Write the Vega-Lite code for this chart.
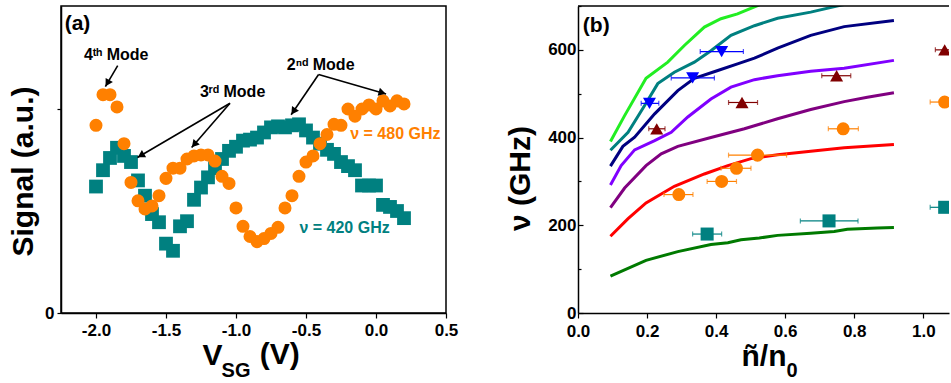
{
  "$schema": "https://vega.github.io/schema/vega-lite/v6.json",
  "padding": {"left": 7, "top": 5, "right": 0, "bottom": 0},
  "background": "white",
  "spacing": 46,
  "resolve": {"scale": {"color": "independent", "shape": "independent", "size": "independent"}},
  "config": {
    "font": "Liberation Sans",
    "axis": {"labelFont": "Liberation Sans", "labelFontWeight": "bold", "labelColor": "black", "labelFontSize": 17, "labelFlush": false,
      "titleFont": "Liberation Sans", "titleFontWeight": "bold", "titleColor": "black", "titleFontSize": 30,
      "domainColor": "black", "domainWidth": 1.5, "tickColor": "black", "tickWidth": 1.2, "grid": false},
    "text": {"font": "Liberation Sans", "fontWeight": "bold"}
  },
  "datasets": {
    "signal": [
      {"v": -2.0, "s": 0.62, "f": "420 GHz"}, {"v": -1.95, "s": 0.70, "f": "420 GHz"}, {"v": -1.9, "s": 0.76, "f": "420 GHz"},
      {"v": -1.85, "s": 0.81, "f": "420 GHz"}, {"v": -1.8, "s": 0.77, "f": "420 GHz"}, {"v": -1.75, "s": 0.74, "f": "420 GHz"},
      {"v": -1.7, "s": 0.65, "f": "420 GHz"}, {"v": -1.65, "s": 0.575, "f": "420 GHz"}, {"v": -1.6, "s": 0.485, "f": "420 GHz"},
      {"v": -1.55, "s": 0.445, "f": "420 GHz"}, {"v": -1.5, "s": 0.34, "f": "420 GHz"}, {"v": -1.45, "s": 0.305, "f": "420 GHz"},
      {"v": -1.4, "s": 0.425, "f": "420 GHz"}, {"v": -1.35, "s": 0.45, "f": "420 GHz"}, {"v": -1.3, "s": 0.555, "f": "420 GHz"},
      {"v": -1.25, "s": 0.615, "f": "420 GHz"}, {"v": -1.2, "s": 0.665, "f": "420 GHz"}, {"v": -1.15, "s": 0.71, "f": "420 GHz"},
      {"v": -1.1, "s": 0.755, "f": "420 GHz"}, {"v": -1.05, "s": 0.795, "f": "420 GHz"}, {"v": -1.0, "s": 0.815, "f": "420 GHz"},
      {"v": -0.95, "s": 0.845, "f": "420 GHz"}, {"v": -0.9, "s": 0.85, "f": "420 GHz"}, {"v": -0.85, "s": 0.86, "f": "420 GHz"},
      {"v": -0.8, "s": 0.885, "f": "420 GHz"}, {"v": -0.75, "s": 0.91, "f": "420 GHz"}, {"v": -0.7, "s": 0.915, "f": "420 GHz"},
      {"v": -0.65, "s": 0.91, "f": "420 GHz"}, {"v": -0.6, "s": 0.92, "f": "420 GHz"}, {"v": -0.55, "s": 0.925, "f": "420 GHz"},
      {"v": -0.5, "s": 0.895, "f": "420 GHz"}, {"v": -0.45, "s": 0.86, "f": "420 GHz"}, {"v": -0.4, "s": 0.83, "f": "420 GHz"},
      {"v": -0.35, "s": 0.8, "f": "420 GHz"}, {"v": -0.3, "s": 0.78, "f": "420 GHz"}, {"v": -0.25, "s": 0.74, "f": "420 GHz"},
      {"v": -0.2, "s": 0.72, "f": "420 GHz"}, {"v": -0.15, "s": 0.7, "f": "420 GHz"}, {"v": -0.1, "s": 0.625, "f": "420 GHz"},
      {"v": -0.05, "s": 0.625, "f": "420 GHz"}, {"v": 0.0, "s": 0.625, "f": "420 GHz"}, {"v": 0.05, "s": 0.53, "f": "420 GHz"},
      {"v": 0.1, "s": 0.52, "f": "420 GHz"}, {"v": 0.15, "s": 0.5, "f": "420 GHz"}, {"v": 0.2, "s": 0.465, "f": "420 GHz"},
      {"v": -2.0, "s": 0.92, "f": "480 GHz"}, {"v": -1.95, "s": 1.07, "f": "480 GHz"}, {"v": -1.9, "s": 1.07, "f": "480 GHz"},
      {"v": -1.85, "s": 1.01, "f": "480 GHz"}, {"v": -1.8, "s": 0.83, "f": "480 GHz"}, {"v": -1.75, "s": 0.64, "f": "480 GHz"},
      {"v": -1.7, "s": 0.55, "f": "480 GHz"}, {"v": -1.65, "s": 0.51, "f": "480 GHz"}, {"v": -1.6, "s": 0.525, "f": "480 GHz"},
      {"v": -1.55, "s": 0.575, "f": "480 GHz"}, {"v": -1.5, "s": 0.66, "f": "480 GHz"}, {"v": -1.45, "s": 0.71, "f": "480 GHz"},
      {"v": -1.4, "s": 0.71, "f": "480 GHz"}, {"v": -1.35, "s": 0.755, "f": "480 GHz"}, {"v": -1.3, "s": 0.77, "f": "480 GHz"},
      {"v": -1.25, "s": 0.775, "f": "480 GHz"}, {"v": -1.2, "s": 0.775, "f": "480 GHz"}, {"v": -1.15, "s": 0.745, "f": "480 GHz"},
      {"v": -1.1, "s": 0.67, "f": "480 GHz"}, {"v": -1.05, "s": 0.635, "f": "480 GHz"}, {"v": -1.0, "s": 0.515, "f": "480 GHz"},
      {"v": -0.95, "s": 0.425, "f": "480 GHz"}, {"v": -0.9, "s": 0.375, "f": "480 GHz"}, {"v": -0.85, "s": 0.35, "f": "480 GHz"},
      {"v": -0.8, "s": 0.365, "f": "480 GHz"}, {"v": -0.75, "s": 0.39, "f": "480 GHz"}, {"v": -0.7, "s": 0.42, "f": "480 GHz"},
      {"v": -0.65, "s": 0.515, "f": "480 GHz"}, {"v": -0.6, "s": 0.575, "f": "480 GHz"}, {"v": -0.55, "s": 0.67, "f": "480 GHz"},
      {"v": -0.5, "s": 0.74, "f": "480 GHz"}, {"v": -0.45, "s": 0.77, "f": "480 GHz"}, {"v": -0.4, "s": 0.83, "f": "480 GHz"},
      {"v": -0.35, "s": 0.875, "f": "480 GHz"}, {"v": -0.3, "s": 0.925, "f": "480 GHz"}, {"v": -0.25, "s": 0.92, "f": "480 GHz"},
      {"v": -0.2, "s": 1.0, "f": "480 GHz"}, {"v": -0.15, "s": 0.965, "f": "480 GHz"}, {"v": -0.1, "s": 1.0, "f": "480 GHz"},
      {"v": -0.05, "s": 1.02, "f": "480 GHz"}, {"v": 0.0, "s": 1.0, "f": "480 GHz"}, {"v": 0.05, "s": 1.04, "f": "480 GHz"},
      {"v": 0.1, "s": 1.015, "f": "480 GHz"}, {"v": 0.15, "s": 1.04, "f": "480 GHz"}, {"v": 0.2, "s": 1.025, "f": "480 GHz"}
    ],
    "notes": [
      {"t": "4ᵗʰ Mode", "x": -2.086, "y": 1.267, "f": "note"},
      {"t": "3ʳᵈ Mode", "x": -1.258, "y": 1.082, "f": "note"},
      {"t": "2ⁿᵈ Mode", "x": -0.637, "y": 1.218, "f": "note"},
      {"t": "ν = 480 GHz", "x": -0.184, "y": 0.877, "f": "480 GHz"},
      {"t": "ν = 420 GHz", "x": -0.547, "y": 0.418, "f": "420 GHz"}
    ],
    "arrows": [
      {"x": -1.845, "y": 1.213, "x2": -1.933, "y2": 1.11},
      {"x": -1.043, "y": 1.028, "x2": -1.704, "y2": 0.762},
      {"x": -1.043, "y": 1.028, "x2": -1.317, "y2": 0.811},
      {"x": -0.41, "y": 1.169, "x2": -0.606, "y2": 0.972},
      {"x": -0.41, "y": 1.169, "x2": 0.072, "y2": 1.074}
    ],
    "lines": [
      {"n": 0.094, "f": 84, "c": "L1"}, {"n": 0.197, "f": 120, "c": "L1"}, {"n": 0.289, "f": 140, "c": "L1"}, {"n": 0.385, "f": 156, "c": "L1"},
      {"n": 0.434, "f": 160, "c": "L1"}, {"n": 0.472, "f": 167, "c": "L1"}, {"n": 0.525, "f": 171, "c": "L1"}, {"n": 0.578, "f": 177, "c": "L1"},
      {"n": 0.674, "f": 182, "c": "L1"}, {"n": 0.742, "f": 186, "c": "L1"}, {"n": 0.78, "f": 191, "c": "L1"}, {"n": 0.867, "f": 194, "c": "L1"},
      {"n": 0.915, "f": 195, "c": "L1"},
      {"n": 0.094, "f": 175, "c": "L2"}, {"n": 0.145, "f": 215, "c": "L2"}, {"n": 0.197, "f": 251, "c": "L2"}, {"n": 0.279, "f": 289, "c": "L2"},
      {"n": 0.366, "f": 317, "c": "L2"}, {"n": 0.434, "f": 336, "c": "L2"}, {"n": 0.501, "f": 352, "c": "L2"}, {"n": 0.578, "f": 361, "c": "L2"},
      {"n": 0.674, "f": 369, "c": "L2"}, {"n": 0.771, "f": 377, "c": "L2"}, {"n": 0.915, "f": 384, "c": "L2"},
      {"n": 0.094, "f": 240, "c": "L3"}, {"n": 0.135, "f": 285, "c": "L3"}, {"n": 0.197, "f": 336, "c": "L3"}, {"n": 0.241, "f": 363, "c": "L3"},
      {"n": 0.289, "f": 380, "c": "L3"}, {"n": 0.385, "f": 400, "c": "L3"}, {"n": 0.482, "f": 420, "c": "L3"}, {"n": 0.578, "f": 443, "c": "L3"},
      {"n": 0.674, "f": 464, "c": "L3"}, {"n": 0.771, "f": 482, "c": "L3"}, {"n": 0.838, "f": 492, "c": "L3"}, {"n": 0.915, "f": 502, "c": "L3"},
      {"n": 0.094, "f": 292, "c": "L4"}, {"n": 0.125, "f": 336, "c": "L4"}, {"n": 0.164, "f": 372, "c": "L4"}, {"n": 0.222, "f": 393, "c": "L4"},
      {"n": 0.27, "f": 412, "c": "L4"}, {"n": 0.318, "f": 447, "c": "L4"}, {"n": 0.385, "f": 488, "c": "L4"}, {"n": 0.443, "f": 515, "c": "L4"},
      {"n": 0.511, "f": 532, "c": "L4"}, {"n": 0.578, "f": 541, "c": "L4"}, {"n": 0.674, "f": 551, "c": "L4"}, {"n": 0.771, "f": 558, "c": "L4"},
      {"n": 0.915, "f": 576, "c": "L4"},
      {"n": 0.094, "f": 335, "c": "L5"}, {"n": 0.13, "f": 380, "c": "L5"}, {"n": 0.164, "f": 401, "c": "L5"}, {"n": 0.222, "f": 454, "c": "L5"},
      {"n": 0.289, "f": 507, "c": "L5"}, {"n": 0.337, "f": 535, "c": "L5"}, {"n": 0.405, "f": 553, "c": "L5"}, {"n": 0.462, "f": 568, "c": "L5"},
      {"n": 0.511, "f": 581, "c": "L5"}, {"n": 0.578, "f": 604, "c": "L5"}, {"n": 0.674, "f": 633, "c": "L5"}, {"n": 0.771, "f": 653, "c": "L5"},
      {"n": 0.915, "f": 667, "c": "L5"},
      {"n": 0.094, "f": 371, "c": "L6"}, {"n": 0.145, "f": 412, "c": "L6"}, {"n": 0.193, "f": 473, "c": "L6"}, {"n": 0.231, "f": 523, "c": "L6"},
      {"n": 0.279, "f": 549, "c": "L6"}, {"n": 0.337, "f": 572, "c": "L6"}, {"n": 0.385, "f": 598, "c": "L6"}, {"n": 0.443, "f": 633, "c": "L6"},
      {"n": 0.511, "f": 655, "c": "L6"}, {"n": 0.578, "f": 672, "c": "L6"}, {"n": 0.674, "f": 686, "c": "L6"}, {"n": 0.756, "f": 701, "c": "L6"},
      {"n": 0.8, "f": 708, "c": "L6"},
      {"n": 0.094, "f": 391, "c": "L7"}, {"n": 0.135, "f": 450, "c": "L7"}, {"n": 0.197, "f": 535, "c": "L7"}, {"n": 0.26, "f": 572, "c": "L7"},
      {"n": 0.308, "f": 610, "c": "L7"}, {"n": 0.366, "f": 652, "c": "L7"}, {"n": 0.414, "f": 671, "c": "L7"}, {"n": 0.462, "f": 682, "c": "L7"},
      {"n": 0.52, "f": 701, "c": "L7"}, {"n": 0.56, "f": 715, "c": "L7"}
    ],
    "points": [
      {"n": 0.374, "f": 180, "lo": 0.332, "hi": 0.416, "c": "sq"},
      {"n": 0.727, "f": 210, "lo": 0.644, "hi": 0.811, "c": "sq"},
      {"n": 1.062, "f": 241, "lo": 1.02, "hi": 1.1, "c": "sq"},
      {"n": 0.292, "f": 270, "lo": 0.249, "hi": 0.333, "c": "ci"},
      {"n": 0.416, "f": 300, "lo": 0.374, "hi": 0.459, "c": "ci"},
      {"n": 0.459, "f": 330, "lo": 0.414, "hi": 0.501, "c": "ci"},
      {"n": 0.52, "f": 360, "lo": 0.436, "hi": 0.604, "c": "ci"},
      {"n": 0.768, "f": 420, "lo": 0.725, "hi": 0.812, "c": "ci"},
      {"n": 1.062, "f": 481, "lo": 1.02, "hi": 1.1, "c": "ci"},
      {"n": 0.228, "f": 420, "lo": 0.205, "hi": 0.252, "c": "tu"},
      {"n": 0.475, "f": 480, "lo": 0.436, "hi": 0.52, "c": "tu"},
      {"n": 0.749, "f": 541, "lo": 0.706, "hi": 0.79, "c": "tu"},
      {"n": 1.062, "f": 600, "lo": 1.035, "hi": 1.09, "c": "tu"},
      {"n": 0.207, "f": 478, "lo": 0.183, "hi": 0.234, "c": "td"},
      {"n": 0.332, "f": 536, "lo": 0.27, "hi": 0.395, "c": "td"},
      {"n": 0.416, "f": 596, "lo": 0.354, "hi": 0.479, "c": "td"}
    ]
  },
  "hconcat": [
    {
      "width": 385,
      "height": 307,
      "view": {"stroke": "black", "strokeWidth": 1.5},
      "layer": [
        {
          "data": {"name": "signal"},
          "mark": {"type": "point", "filled": true, "opacity": 1},
          "encoding": {
            "x": {"field": "v", "type": "quantitative", "title": "V",
              "scale": {"domain": [-2.25, 0.5], "nice": false, "zero": false},
              "axis": {"values": [-2, -1.75, -1.5, -1.25, -1, -0.75, -0.5, -0.25, 0, 0.25, 0.5],
                "labelExpr": "abs(datum.value*2 - round(datum.value*2)) < 0.001 ? replace(format(datum.value, '.1f'), '\u2212', '-') : ''",
                "tickSize": {"condition": {"test": "abs(datum.value*2 - round(datum.value*2)) < 0.001", "value": 5}, "value": 3},
                "labelPadding": 4, "titleBaseline": "alphabetic", "titleY": 51, "titleX": 141, "titleAlign": "left"}},
            "y": {"field": "s", "type": "quantitative", "title": "Signal (a.u.)",
              "scale": {"domain": [0, 1.505], "nice": false},
              "axis": {"values": [0, 1], "labelExpr": "datum.value == 0 ? '0' : ''", "tickSize": 4, "labelPadding": 3,
                "titleX": -23, "titleY": 165, "titleBaseline": "bottom"}},
            "color": {"field": "f", "type": "nominal", "scale": {"domain": ["420 GHz", "480 GHz", "note"], "range": ["#008080", "#FF8000", "black"]}, "legend": null},
            "shape": {"field": "f", "type": "nominal", "scale": {"domain": ["420 GHz", "480 GHz"], "range": ["square", "circle"]}, "legend": null},
            "size": {"field": "f", "type": "nominal", "scale": {"domain": ["420 GHz", "480 GHz"], "range": [190, 170]}, "legend": null}
          }
        },
        {
          "data": {"name": "arrows"},
          "mark": {"type": "rule", "color": "black", "strokeWidth": 1.6},
          "encoding": {
            "x": {"field": "x", "type": "quantitative"},
            "y": {"field": "y", "type": "quantitative"},
            "x2": {"field": "x2"},
            "y2": {"field": "y2"}
          }
        },
        {
          "data": {"name": "arrows"},
          "transform": [
            {"calculate": "(datum.x2 - datum.x) * 140", "as": "dxp"},
            {"calculate": "(datum.y2 - datum.y) * 204", "as": "dyp"},
            {"calculate": "sqrt(datum.dxp * datum.dxp + datum.dyp * datum.dyp)", "as": "len"},
            {"calculate": "datum.x2 - datum.dxp / datum.len * 4 / 140", "as": "hx"},
            {"calculate": "datum.y2 - datum.dyp / datum.len * 4 / 204", "as": "hy"},
            {"calculate": "atan2(datum.dxp, datum.dyp) * 180 / PI", "as": "ang"}
          ],
          "mark": {"type": "point", "shape": "triangle-up", "filled": true, "color": "black", "opacity": 1, "size": 70},
          "encoding": {
            "x": {"field": "hx", "type": "quantitative"},
            "y": {"field": "hy", "type": "quantitative"},
            "angle": {"field": "ang", "type": "quantitative", "scale": null}
          }
        },
        {
          "data": {"name": "notes"},
          "mark": {"type": "text", "fontSize": 16, "fontWeight": "bold", "align": "left", "baseline": "middle"},
          "encoding": {
            "x": {"field": "x", "type": "quantitative"},
            "y": {"field": "y", "type": "quantitative"},
            "text": {"field": "t"},
            "color": {"field": "f", "type": "nominal", "scale": {"domain": ["420 GHz", "480 GHz", "note"], "range": ["#008080", "#FF8000", "black"]}, "legend": null}
          }
        },
        {
          "data": {"values": [{}]},
          "mark": {"type": "text", "text": "(a)", "fontSize": 21, "fontWeight": "bold", "align": "left", "baseline": "middle", "color": "black"},
          "encoding": {"x": {"datum": -2.224}, "y": {"datum": 1.415}}
        },
        {
          "data": {"values": [{}]},
          "mark": {"type": "text", "text": "SG", "fontSize": 20, "fontWeight": "bold", "align": "center", "baseline": "middle", "color": "black", "clip": false},
          "encoding": {"x": {"datum": -1.0}, "y": {"datum": -0.284}}
        },
        {
          "data": {"values": [{}]},
          "mark": {"type": "text", "text": "(V)", "fontSize": 30, "fontWeight": "bold", "align": "left", "baseline": "alphabetic", "color": "black", "clip": false},
          "encoding": {"x": {"datum": -0.83}, "y": {"datum": -0.25}}
        }
      ]
    },
    {
      "width": 371,
      "height": 307,
      "view": {"stroke": null},
      "layer": [
        {
          "data": {"name": "lines"},
          "mark": {"type": "line", "strokeWidth": 3, "clip": true},
          "encoding": {
            "x": {"field": "n", "type": "quantitative", "title": "ñ/n",
              "scale": {"domain": [0, 1.0745], "nice": false},
              "axis": {"values": [0, 0.1, 0.2, 0.3, 0.4, 0.5, 0.6, 0.7, 0.8, 0.9, 1.0],
                "labelExpr": "round(datum.value*10) % 2 == 0 ? format(datum.value, '.1f') : ''",
                "tickSize": {"condition": {"test": "round(datum.value*10) % 2 == 0", "value": 5}, "value": 3},
                "labelPadding": 5, "titleBaseline": "alphabetic", "titleY": 52}},
            "y": {"field": "f", "type": "quantitative", "title": "ν (GHz)",
              "scale": {"domain": [0, 700], "nice": false},
              "axis": {"values": [0, 100, 200, 300, 400, 500, 600, 700],
                "labelExpr": "datum.value % 200 == 0 ? format(datum.value, 'd') : ''",
                "tickSize": {"condition": {"test": "datum.value % 200 == 0", "value": -5}, "value": -3},
                "labelPadding": 7, "titleX": -43, "titleY": 172, "titleBaseline": "bottom"}},
            "color": {"field": "c", "type": "nominal",
              "scale": {"domain": ["L1", "L2", "L3", "L4", "L5", "L6", "L7", "sq", "ci", "tu", "td"],
                "range": ["#007a00", "#ff0000", "#800080", "#8000ff", "#000080", "#008080", "#22ee22", "#008080", "#FF8000", "#800000", "#0000FF"]},
              "legend": null}
          }
        },
        {
          "data": {"values": [{}]},
          "mark": {"type": "rule", "color": "black", "strokeWidth": 1.5},
          "encoding": {"y": {"datum": 700}}
        },
        {
          "data": {"name": "points"},
          "mark": {"type": "errorbar", "ticks": true, "thickness": 1.2, "clip": true},
          "encoding": {
            "x": {"field": "lo", "type": "quantitative", "title": "ñ/n"},
            "x2": {"field": "hi"},
            "y": {"field": "f", "type": "quantitative", "title": "ν (GHz)"},
            "color": {"field": "c", "type": "nominal",
              "scale": {"domain": ["L1", "L2", "L3", "L4", "L5", "L6", "L7", "sq", "ci", "tu", "td"],
                "range": ["#007a00", "#ff0000", "#800080", "#8000ff", "#000080", "#008080", "#22ee22", "#008080", "#FF8000", "#800000", "#0000FF"]},
              "legend": null}
          }
        },
        {
          "data": {"name": "points"},
          "mark": {"type": "point", "filled": true, "opacity": 1, "clip": true},
          "encoding": {
            "x": {"field": "n", "type": "quantitative", "title": "ñ/n"},
            "y": {"field": "f", "type": "quantitative", "title": "ν (GHz)"},
            "color": {"field": "c", "type": "nominal",
              "scale": {"domain": ["L1", "L2", "L3", "L4", "L5", "L6", "L7", "sq", "ci", "tu", "td"],
                "range": ["#007a00", "#ff0000", "#800080", "#8000ff", "#000080", "#008080", "#22ee22", "#008080", "#FF8000", "#800000", "#0000FF"]},
              "legend": null},
            "shape": {"field": "c", "type": "nominal", "scale": {"domain": ["sq", "ci", "tu", "td"], "range": ["square", "circle", "triangle-up", "triangle-down"]}, "legend": null},
            "size": {"field": "c", "type": "nominal", "scale": {"domain": ["sq", "ci", "tu", "td"], "range": [170, 170, 260, 260]}, "legend": null}
          }
        },
        {
          "data": {"values": [{}]},
          "mark": {"type": "text", "text": "(b)", "fontSize": 21, "fontWeight": "bold", "align": "left", "baseline": "middle", "color": "black"},
          "encoding": {"x": {"datum": 0.014}, "y": {"datum": 654}}
        },
        {
          "data": {"values": [{}]},
          "mark": {"type": "text", "text": "0", "fontSize": 20, "fontWeight": "bold", "align": "center", "baseline": "middle", "color": "black", "clip": false},
          "encoding": {"x": {"datum": 0.62}, "y": {"datum": -132}}
        }
      ]
    }
  ]
}
